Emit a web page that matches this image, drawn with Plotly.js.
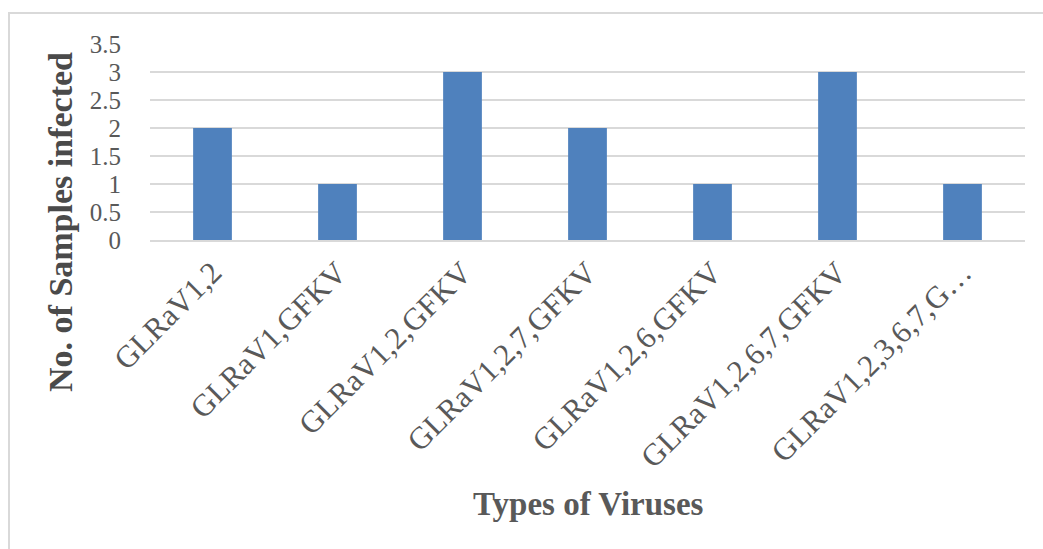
<!DOCTYPE html>
<html>
<head>
<meta charset="utf-8">
<script src="https://cdn.plot.ly/plotly-3.0.1.min.js"></script>
<style>
html,body{margin:0;padding:0;background:#fff;}
#wrap{position:relative;width:1043px;height:549px;overflow:hidden;}
#frame{position:absolute;left:8px;top:12px;width:1100px;height:600px;border-top:2px solid #d9d9d9;border-left:2px solid #d9d9d9;box-sizing:border-box;pointer-events:none;}
#chart{position:absolute;left:0;top:0;width:1043px;height:549px;}
</style>
</head>
<body>
<div id="wrap">
<div id="chart"></div>
<div id="frame"></div>
</div>
<script>
const categories = ["GLRaV1,2","GLRaV1,GFKV","GLRaV1,2,GFKV","GLRaV1,2,7,GFKV","GLRaV1,2,6,GFKV","GLRaV1,2,6,7,GFKV","GLRaV1,2,3,6,7,G\u2026"];
const samplesInfected = [2,1,3,2,1,3,1];
const yTickVals = [0,0.5,1,1.5,2,2.5,3,3.5];
const yTickText = ["0","0.5","1","1.5","2","2.5","3","3.5"];
const xTitle = "Types of Viruses";
const yTitle = "No. of Samples infected";

const fontFam = "'Liberation Serif','DejaVu Serif',serif";
const data = [{
  type:'bar',
  x: categories,
  y: samplesInfected,
  marker:{color:'#4f81bd'},
  hoverinfo:'x+y'
}];
const layout = {
  width:1043, height:549,
  margin:{l:150, r:18, t:44, b:309, pad:0},
  paper_bgcolor:'rgba(0,0,0,0)',
  plot_bgcolor:'#fff',
  bargap:0.69,
  showlegend:false,
  font:{family:fontFam, color:'#595959'},
  xaxis:{
    type:'category',
    tickangle:-45,
    tickfont:{family:fontFam, size:31, color:'#595959'},
    showgrid:false,
    showline:true, linecolor:'#d9d9d9', linewidth:2,
    ticks:'', ticklen:0,
    automargin:false
  },
  yaxis:{
    range:[0,3.5],
    tickvals:yTickVals, ticktext:yTickText,
    tickfont:{family:fontFam, size:25, color:'#595959'},
    showgrid:true, gridcolor:'#d9d9d9', gridwidth:2,
    zeroline:false,
    showline:false,
    ticks:'', ticklabelstandoff:28,
    automargin:false
  },
  annotations:[
    {text:'<b>'+xTitle+'</b>', xref:'paper', yref:'paper', x:(588-150)/875, y:-264/196, xanchor:'center', yanchor:'middle', showarrow:false,
     font:{family:fontFam, size:33, color:'#595959'}},
    {text:'<b>'+yTitle+'</b>', xref:'paper', yref:'paper', x:-90/875, y:(240-222)/196, xanchor:'center', yanchor:'middle', textangle:-90, showarrow:false,
     font:{family:fontFam, size:34, color:'#4a4a4a'}}
  ]
};
Plotly.newPlot('chart', data, layout, {displayModeBar:false});
</script>
</body>
</html>
